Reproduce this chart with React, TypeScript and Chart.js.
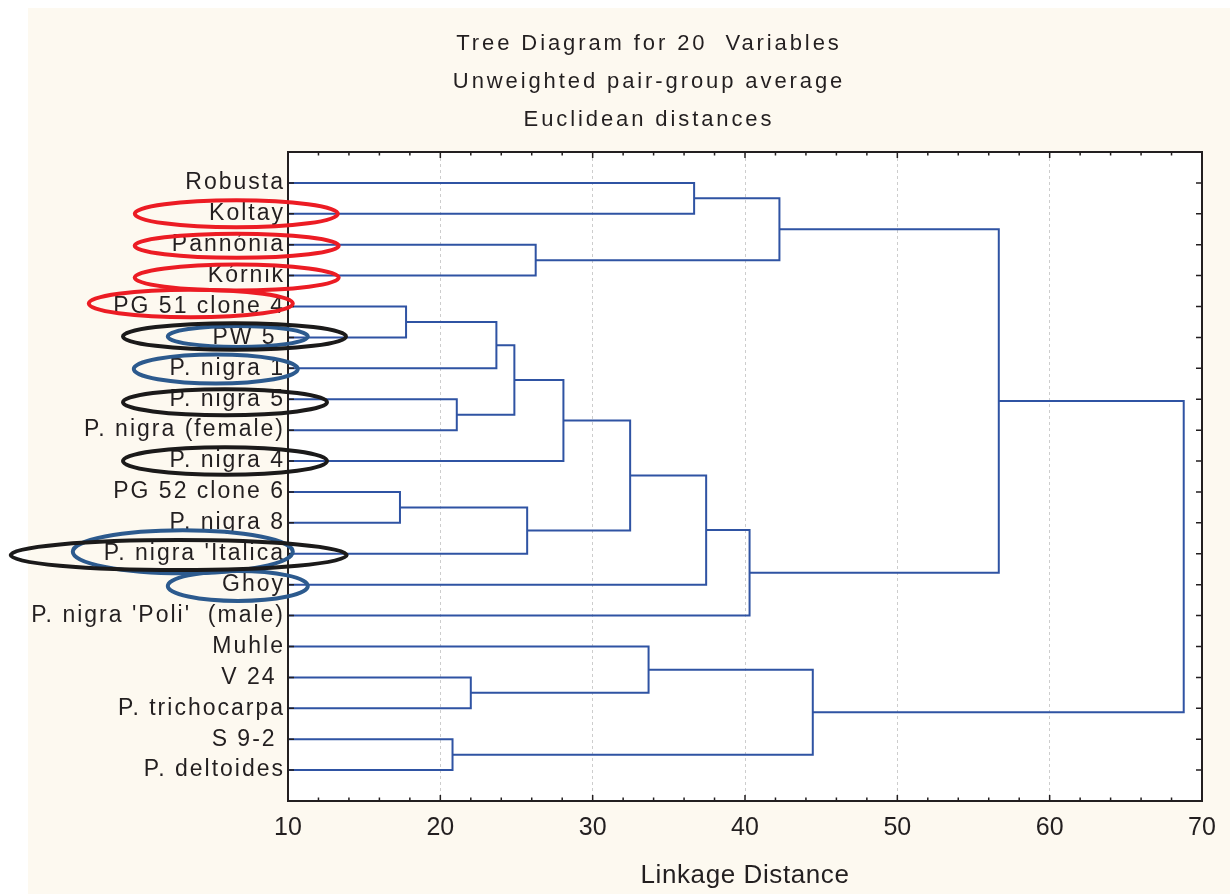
import { useEffect, useRef } from 'react';
import { Chart, registerables } from 'chart.js';

Chart.register(...registerables);

// ---------- data ----------
const titleLines = ['Tree Diagram for 20  Variables', 'Unweighted pair-group average', 'Euclidean distances'];
const xAxisTitle = 'Linkage Distance';
const leafLabels = [
  'Robusta',
  'Koltay',
  'Pannónia',
  'Kórnik',
  'PG 51 clone 4',
  'PW 5 ',
  'P. nigra 1',
  'P. nigra 5',
  'P. nigra (female)',
  'P. nigra 4',
  'PG 52 clone 6',
  'P. nigra 8',
  "P. nigra 'Italica",
  'Ghoy',
  "P. nigra 'Poli'  (male)",
  'Muhle',
  'V 24 ',
  'P. trichocarpa',
  'S 9-2 ',
  'P. deltoides',
];
// linkage: merge k joins clusters mergeLeft[k] and mergeRight[k] (ids < 20 are leaves, id 20+k is merge k)
const mergeLeft = [10, 4, 18, 7, 16, 21, 25, 20, 2, 26, 29, 15, 0, 30, 33, 32, 31, 35, 37];
const mergeRight = [11, 5, 19, 8, 17, 6, 23, 12, 3, 9, 27, 24, 1, 13, 14, 28, 22, 34, 36];
const mergeHeight = [17.35, 17.75, 20.8, 21.08, 22.0, 23.68, 24.86, 25.7, 26.26, 28.08, 32.46, 33.67, 36.66, 37.45, 40.3, 42.26, 44.45, 56.66, 68.8];
const xMin = 10;
const xMax = 70;
const xMajorStep = 10;
const xMinorStep = 2;

// ---------- annotation (ellipses around labels) ----------
const RED = '#ec1c24';
const BLACK = '#1b1a1a';
const STEEL = '#2c5a8e';
const ellipseMarks = [
  { leaf: 5, color: STEEL, dx: -50.2, dy: -1, rx: 70, ry: 10.5 },
  { leaf: 6, color: STEEL, dx: -72.2, dy: 0.7, rx: 82, ry: 14.5 },
  { leaf: 12, color: STEEL, dx: -105.2, dy: -2, rx: 110, ry: 21.5 },
  { leaf: 13, color: STEEL, dx: -50.2, dy: 1.3, rx: 70, ry: 15 },
  { leaf: 5, color: BLACK, dx: -53.5, dy: -1, rx: 111.5, ry: 13.3 },
  { leaf: 7, color: BLACK, dx: -63, dy: 3, rx: 102, ry: 13 },
  { leaf: 9, color: BLACK, dx: -63, dy: 0, rx: 102, ry: 13.8 },
  { leaf: 12, color: BLACK, dx: -109.3, dy: 1.3, rx: 168, ry: 15 },
  { leaf: 1, color: RED, dx: -51.7, dy: 0, rx: 101.5, ry: 13.5 },
  { leaf: 2, color: RED, dx: -51.3, dy: 1, rx: 102, ry: 12 },
  { leaf: 3, color: RED, dx: -51.3, dy: 2, rx: 102, ry: 13 },
  { leaf: 4, color: RED, dx: -97.2, dy: -3, rx: 102, ry: 13.8 },
];

// ---------- styles ----------
const FONT = "'Liberation Sans', Arial, Helvetica, sans-serif";
const TEXT = '#231f20';
const LINK = '#2f53a3';
const CREAM = '#fdf9f0';
const PANEL = { left: 28, top: 8 };
const letterSpacingBySize: Record<number, number> = { 22: 2.9, 23: 2, 26: 0.6 };

function buildDatasets() {
  const pos: number[] = leafLabels.map((_, i) => i);
  const hgt: number[] = leafLabels.map(() => xMin);
  return mergeLeft.map((a, k) => {
    const b = mergeRight[k];
    const h = mergeHeight[k];
    const ds = {
      data: [
        { x: hgt[a], y: pos[a] },
        { x: h, y: pos[a] },
        { x: h, y: pos[b] },
        { x: hgt[b], y: pos[b] },
      ],
      showLine: true,
      borderColor: LINK,
      borderWidth: 2,
      pointRadius: 0,
      pointHoverRadius: 0,
      fill: false,
      tension: 0,
    };
    pos.push((pos[a] + pos[b]) / 2);
    hgt.push(h);
    return ds;
  });
}

const decorPlugin = {
  id: 'decor',
  beforeDraw(chart: any) {
    const ctx = chart.ctx as any;
    if (!ctx.__spaced) {
      ctx.__spaced = true;
      const orig = ctx.fillText;
      ctx.fillText = function (text: string, x: number, y: number, maxWidth?: number) {
        const m = /(\d+(?:\.\d+)?)px/.exec(this.font);
        const s = m ? letterSpacingBySize[Math.round(parseFloat(m[1]))] || 0 : 0;
        if ('letterSpacing' in this) this.letterSpacing = s + 'px';
        return maxWidth === undefined ? orig.call(this, text, x, y) : orig.call(this, text, x, y, maxWidth);
      };
    }
    const { left, top, right, bottom } = chart.chartArea;
    ctx.save();
    ctx.fillStyle = CREAM;
    ctx.fillRect(PANEL.left, PANEL.top, chart.width - PANEL.left, chart.height - PANEL.top);
    ctx.fillStyle = '#ffffff';
    ctx.fillRect(left, top, right - left, bottom - top);
    ctx.restore();
  },
  afterDraw(chart: any) {
    const ctx = chart.ctx;
    const { left, top, right, bottom } = chart.chartArea;
    const xs = chart.scales.x;
    const ys = chart.scales.y;
    ctx.save();
    // frame
    ctx.strokeStyle = TEXT;
    ctx.lineWidth = 2;
    ctx.strokeRect(left, top, right - left, bottom - top);
    // x ticks (inward, top and bottom)
    ctx.lineWidth = 1.5;
    for (let v = xMin; v <= xMax + 1e-9; v += xMinorStep) {
      const px = xs.getPixelForValue(v);
      const major = Math.abs(v / xMajorStep - Math.round(v / xMajorStep)) < 1e-6;
      const len = major ? 6 : 3.5;
      ctx.beginPath();
      ctx.moveTo(px, bottom);
      ctx.lineTo(px, bottom - len);
      ctx.moveTo(px, top);
      ctx.lineTo(px, top + len);
      ctx.stroke();
    }
    // y ticks (inward, left and right)
    leafLabels.forEach((_, i) => {
      const py = ys.getPixelForValue(i);
      ctx.beginPath();
      ctx.moveTo(left, py);
      ctx.lineTo(left + 6, py);
      ctx.moveTo(right, py);
      ctx.lineTo(right - 6, py);
      ctx.stroke();
    });
    // ellipses
    ctx.lineWidth = 4;
    ellipseMarks.forEach((e) => {
      const cy = ys.getPixelForValue(e.leaf) + e.dy;
      const cx = left + e.dx;
      ctx.strokeStyle = e.color;
      ctx.beginPath();
      ctx.ellipse(cx, cy, e.rx, e.ry, 0, 0, Math.PI * 2);
      ctx.stroke();
    });
    ctx.restore();
  },
};

export default function App() {
  const ref = useRef<HTMLCanvasElement | null>(null);
  useEffect(() => {
    if (!ref.current) return;
    const chart = new Chart(ref.current, {
      type: 'scatter',
      data: { datasets: buildDatasets() as any },
      options: {
        animation: false,
        responsive: false,
        devicePixelRatio: 1,
        events: [],
        layout: { padding: { left: 96, right: 28, top: 0, bottom: 0 } },
        plugins: {
          legend: { display: false },
          tooltip: { enabled: false },
          title: {
            display: true,
            text: titleLines,
            color: TEXT,
            font: { family: FONT, size: 22, weight: 'normal', lineHeight: 38 / 22 },
            padding: { top: 25, bottom: 13 },
          },
        },
        scales: {
          x: {
            type: 'linear',
            position: 'bottom',
            min: xMin,
            max: xMax,
            ticks: { stepSize: xMajorStep, padding: 12, color: TEXT, font: { family: FONT, size: 25 } },
            grid: {
              drawTicks: false,
              lineWidth: 1,
              color: (c: any) =>
                c.tick && (c.tick.value === xMin || c.tick.value === xMax) ? 'rgba(0,0,0,0)' : '#cdcdcd',
            },
            border: { display: false, dash: [3, 3] },
            title: {
              display: true,
              text: xAxisTitle,
              color: TEXT,
              font: { family: FONT, size: 26 },
              padding: { top: 0, bottom: 3 },
            },
            afterFit: (s: any) => {
              s.height = 93;
            },
          },
          y: {
            type: 'linear',
            min: -1,
            max: leafLabels.length,
            reverse: true,
            afterBuildTicks: (s: any) => {
              s.ticks = leafLabels.map((_, i) => ({ value: i }));
            },
            ticks: {
              autoSkip: false,
              padding: 3,
              color: TEXT,
              font: { family: FONT, size: 23 },
              callback: (v: any) => leafLabels[v as number] ?? '',
            },
            grid: { display: false, drawTicks: false },
            border: { display: false },
            afterFit: (s: any) => {
              s.width = 192;
              // let long labels run past the scale box instead of being clipped
              s._computeLabelArea = () => undefined;
            },
          },
        },
      } as any,
      plugins: [decorPlugin],
    });
    return () => chart.destroy();
  }, []);
  return (
    <div style={{ position: 'absolute', left: 0, top: 0, width: 1230, height: 894 }}>
      <canvas ref={ref} width={1230} height={894} style={{ display: 'block', width: 1230, height: 894 }} />
    </div>
  );
}
